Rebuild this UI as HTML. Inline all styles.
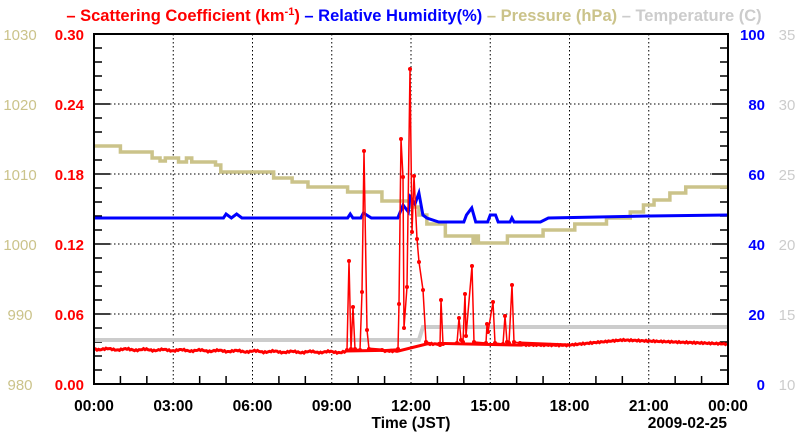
<!DOCTYPE html><html><head><style>body{margin:0;background:#fff}svg{font-family:"Liberation Sans",sans-serif;font-weight:bold}</style></head><body>
<svg id="s" width="800" height="434" xmlns="http://www.w3.org/2000/svg">
<g font-size="16.5" text-anchor="middle">
<text x="414" y="21"><tspan fill="#f00">– Scattering Coefficient (km</tspan><tspan fill="#f00" font-size="11" dy="-6">-1</tspan><tspan fill="#f00" dy="6">)</tspan><tspan fill="#00f"> – Relative Humidity(%)</tspan><tspan fill="#cbc38a"> – Pressure (hPa)</tspan><tspan fill="#ccc"> – Temperature (C)</tspan></text>
</g>
<g id="g"></g>
</svg>
<script>
var g=document.getElementById('g'),L=94,R=728,T=34,B=384,h='';
function X(t){return L+(R-L)*t/24}
function TX(x){return (x-L)*24/(R-L)}
for(var i=1;i<8;i++){h+='<line x1="'+X(i*3)+'" y1="'+T+'" x2="'+X(i*3)+'" y2="'+B+'" stroke="#000" stroke-dasharray="1.5,2.5"/>';}
for(var i=1;i<5;i++){var y=B-70*i;h+='<line x1="'+L+'" y1="'+y+'" x2="'+R+'" y2="'+y+'" stroke="#000" stroke-dasharray="1.5,2.5"/>';}
for(var i=0;i<=25;i++){var y=B-14*i,len=i%5==0?16:8;h+='<line x1="'+L+'" y1="'+y+'" x2="'+(L+len)+'" y2="'+y+'" stroke="#000" stroke-width="1.5"/><line x1="'+R+'" y1="'+y+'" x2="'+(R-len)+'" y2="'+y+'" stroke="#000" stroke-width="1.5"/>';}
for(var i=0;i<=24;i++){var len=i%3==0?0:8;h+='<line x1="'+X(i)+'" y1="'+B+'" x2="'+X(i)+'" y2="'+(B-len)+'" stroke="#000" stroke-width="1.5"/>';}
var lp=['980','990','1000','1010','1020','1030'],ls=['0.00','0.06','0.12','0.18','0.24','0.30'],rr=['0','20','40','60','80','100'],rt=['10','15','20','25','30','35'];
for(var i=0;i<6;i++){var y=B-70*i+6;h+='<text x="20" y="'+y+'" fill="#cbc38a" font-weight="normal" font-size="15" text-anchor="middle">'+lp[i]+'</text><text x="84" y="'+y+'" fill="#f00" font-size="15" text-anchor="end">'+ls[i]+'</text><text x="765" y="'+y+'" fill="#00f" font-size="15" text-anchor="end">'+rr[i]+'</text><text x="787" y="'+y+'" fill="#ccc" font-weight="normal" font-size="15" text-anchor="middle">'+rt[i]+'</text>';}
for(var i=0;i<=8;i++){var t=(i*3%24);h+='<text x="'+X(i*3)+'" y="411" font-size="15.5" text-anchor="middle">'+(t<10?'0':'')+t+':00</text>';}
h+='<text x="411" y="428" font-size="15.5" text-anchor="middle">Time (JST)</text><text x="727" y="428" font-size="15.5" text-anchor="end">2009-02-25</text>';
h+='<polyline fill="none" stroke="#ccc" stroke-width="4" points="'+L+',340 '+X(12.3)+',340 '+X(12.45)+',327 '+R+',327"/>';
var P=[[0,146],[1,152],[2.2,158],[2.5,161],[2.7,158],[3,158],[3.2,162],[3.5,158],[3.7,162],[4.6,165],[4.8,172],[6,172],[6.8,178],[7.5,182],[8.1,187],[9.4,187],[9.6,192],[10.9,201],[12.0,207],[12.3,215],[12.6,224],[13.3,236],[14.35,243],[14.45,236],[14.55,243],[15.65,236],[17.0,230],[18.2,224],[19.4,218],[20.3,212],[20.8,205],[21.2,200],[21.8,193],[22.4,187],[24,187]];
var pp='';for(var i=0;i<P.length;i++){if(i>0)pp+=X(P[i][0])+','+P[i-1][1]+' ';pp+=X(P[i][0])+','+P[i][1]+' ';}
h+='<polyline fill="none" stroke="#cbc38a" stroke-width="3.5" points="'+pp+'"/>';
var H=[[0,218],[4.9,218],[5,214],[5.2,218],[5.4,214],[5.6,218],[9.6,218],[9.7,214],[9.8,218],[10.1,218],[10.2,213],[10.5,218],[11.5,218],[11.7,205],[11.9,212],[11.96,197],[12.15,204],[12.3,193],[12.45,215],[12.6,218],[13.05,222],[14.0,222],[14.1,215],[14.3,208],[14.45,222],[14.9,222],[15.0,215],[15.2,215],[15.3,222],[15.75,222],[15.82,218],[15.9,222],[16.9,222],[17.2,218],[21,216],[24,215]];
var hp='';H.forEach(function(p){hp+=X(p[0])+','+p[1]+' '});
h+='<polyline fill="none" stroke="#00f" stroke-width="3" points="'+hp+'"/>';
var SP=[[347,350],[349,261],[351,349],[353,307],[355,349],[360,350],[362,292],[364,151],[367,330],[369,349],[382,350],[398,349],[399,304],[401,139],[403,177],[404,328],[407,287],[410,69],[412,232],[414,176],[417,239],[419,262],[423,290],[426,342],[440,345],[441,300],[443,344],[457,343],[459,318],[461,340],[463,342],[465,294],[466,336],[472,266],[474,342],[486,343],[487,324],[488,332],[493,302],[495,343],[503,344],[505,316],[507,342],[509,343],[512,285],[514,342],[520,343]];
var sp='';SP.forEach(function(p){sp+=p[0]+','+p[1]+' '});
h+='<polyline fill="none" stroke="#f00" stroke-width="1.5" points="'+sp+'"/>';
var base='';for(var x=L;x<=R;x+=1.5){var t=TX(x),y;
if(x>=347&&x<=382)continue;
if(t<9.6)y=349+Math.min(3,t/2.5)+Math.sin(t*9)*0.7;else if(t<12.2)y=351;else if(t<13)y=344;else if(t<18)y=344+(t-13)*0.25;else if(t<20)y=345-(t-18)*2.5;else y=340+(t-20)*1.0;
if(x>=398&&x<=520&&!(x>426&&x<440))continue;
base+=x.toFixed(1)+','+(y+Math.sin(x*1.7)*0.6).toFixed(1)+' ';}
h+='<polyline fill="none" stroke="#f00" stroke-width="3" points="'+base+'"/>';
h+='<polyline fill="none" stroke="#f00" stroke-width="3" points="369,349 382,350"/>';
h+='<polyline fill="none" stroke="#f00" stroke-width="3" points="520,343 '+X(18)+',345"/>';
SP.forEach(function(p){h+='<circle cx="'+p[0]+'" cy="'+p[1]+'" r="2" fill="#f00"/>'});
h+='<rect x="'+L+'" y="'+T+'" width="'+(R-L)+'" height="'+(B-T)+'" fill="none" stroke="#000" stroke-width="2"/>';
g.innerHTML=h;
</script></body></html>
